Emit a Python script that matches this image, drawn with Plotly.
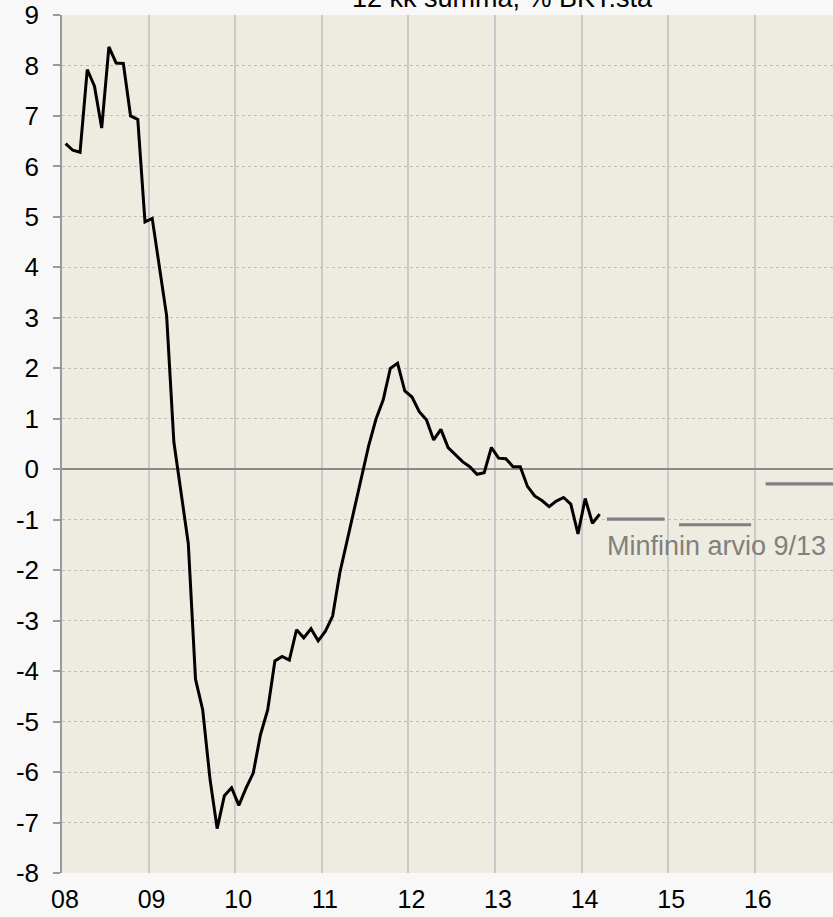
import plotly.graph_objects as go

# ---- data ----
start_year = 2008
balance = [
    # 2008
    6.45, 6.32, 6.28, 7.92, 7.59, 6.76, 8.37, 8.05, 8.04, 7.00, 6.93, 4.90,
    # 2009
    4.97, 4.00, 3.04, 0.54, -0.52, -1.47, -4.16, -4.77, -6.13, -7.12, -6.47, -6.31,
    # 2010
    -6.66, -6.32, -6.02, -5.26, -4.77, -3.80, -3.71, -3.78, -3.18, -3.34, -3.16, -3.40,
    # 2011
    -3.21, -2.91, -2.05, -1.42, -0.77, -0.10, 0.47, 0.99, 1.37, 2.00, 2.10, 1.55,
    # 2012
    1.43, 1.14, 0.98, 0.58, 0.79, 0.43, 0.28, 0.15, 0.05, -0.10, -0.07, 0.43,
    # 2013
    0.22, 0.21, 0.05, 0.05, -0.34, -0.53, -0.62, -0.74, -0.63, -0.56, -0.69, -1.28,
    # 2014
    -0.58, -1.07, -0.89,
]
forecast_years = [2014, 2015, 2016]
forecast_values = [-0.99, -1.10, -0.29]
forecast_first_month = [4, 2, 2]  # first month in each year where the estimate is drawn
forecast_label = "Minfinin arvio 9/13"
title_text = "12 kk summa, % BKT:sta"
x_tick_years = list(range(2008, 2017))
x_tick_labels = ["08", "09", "10", "11", "12", "13", "14", "15", "16"]
y_ticks = list(range(-8, 10))
y_tick_labels = [str(v) for v in y_ticks]

# ---- build series ----
x_actual = [start_year + (i + 0.5) / 12 for i in range(len(balance))]

x_fc, y_fc = [], []
for yr, val, m0 in zip(forecast_years, forecast_values, forecast_first_month):
    for m in range(m0, 13):
        x_fc.append(yr + (m - 0.5) / 12)
        y_fc.append(val)
    x_fc.append(None)
    y_fc.append(None)

FONT = "Arial, 'Liberation Sans', sans-serif"
L, R, T, B = 62, 0, 15, 44
W, H = 833, 917

fig = go.Figure()
fig.add_trace(go.Scatter(x=x_actual, y=balance, mode="lines",
                         line=dict(color="#000000", width=3),
                         showlegend=False, hoverinfo="skip"))
fig.add_trace(go.Scatter(x=x_fc, y=y_fc, mode="lines",
                         line=dict(color="#808080", width=3.2),
                         connectgaps=False,
                         showlegend=False, hoverinfo="skip"))

fig.add_annotation(x=2014.27, y=-1.52, xref="x", yref="y",
                   text=forecast_label, showarrow=False,
                   xanchor="left", yanchor="middle",
                   font=dict(family=FONT, size=27, color="#808080"))

fig.add_annotation(x=(502 - L) / (W - L - R), y=1, xref="paper", yref="paper",
                   text=title_text, showarrow=False,
                   xanchor="center", yanchor="bottom", yshift=0,
                   font=dict(family=FONT, size=27, color="#000000"))

fig.update_layout(
    width=W, height=H,
    margin=dict(l=L, r=R, t=T, b=B, autoexpand=False),
    paper_bgcolor="#F8F8F8",
    plot_bgcolor="#EEEBE1",
    font=dict(family=FONT, color="#000000"),
    xaxis=dict(
        range=[2008, 2016.903], automargin=False,
        tickmode="array", tickvals=x_tick_years, ticktext=x_tick_labels,
        showgrid=True, gridcolor="#C9C9C9", gridwidth=1.5,
        zeroline=False, showline=False, ticks="",
        tickfont=dict(size=25, color="#000000"),
        ticklabelstandoff=9, ticklabelshift=3,
    ),
    yaxis=dict(
        range=[-8, 9], automargin=False,
        tickmode="array", tickvals=y_ticks, ticktext=y_tick_labels,
        showgrid=True, gridcolor="#BEBEBE", gridwidth=1, griddash="dot",
        zeroline=True, zerolinecolor="#8A8A8A", zerolinewidth=1.5,
        showline=True, linecolor="#999999", linewidth=1.5,
        ticks="outside", ticklen=7, tickcolor="#999999", tickwidth=1.5,
        tickfont=dict(size=26, color="#000000"),
        ticklabelstandoff=9,
    ),
)

fig.write_html(
    "out.html",
    config={"displayModeBar": False},
    post_script="document.body.style.margin='0';document.body.style.overflow='hidden';",
)
